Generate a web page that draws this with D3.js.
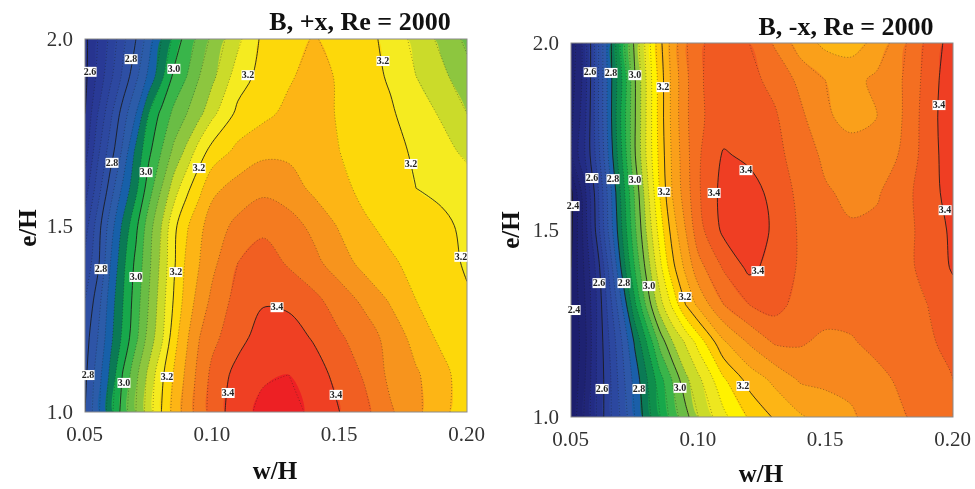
<!DOCTYPE html>
<html><head><meta charset="utf-8">
<style>html,body{margin:0;padding:0;background:#fff}svg{display:block;filter:blur(.45px)}</style>
<script src="https://cdn.jsdelivr.net/npm/d3@7"></script></head>
<body><svg id="c" width="975" height="489"></svg>
<script>
const wGrid=[.05,.055,.06,.065,.07,.075,.08,.085,.09,.095,.10,.11,.12,.13,.14,.15,.16,.17,.18,.19,.20];
const eGrid=[2.0,1.9,1.8,1.7,1.6,1.5,1.4,1.3,1.2,1.1,1.0];
const thresholds=[2.40,2.44,2.48,2.52,2.56,2.60,2.64,2.68,2.72,2.76,2.80,2.84,2.88,2.92,2.96,3.00,3.04,3.08,3.12,3.16,3.20,3.24,3.28,3.32,3.36,3.40,3.44];
const plusColors=["#1d1f6f","#1f2274","#21267b","#232a82","#252e88","#27348f","#293a96","#2b429c","#2d48a0","#2e4fa4","#2e55a7","#2c5ca9","#1760a9","#0b7a55","#17a84b","#39b54a","#6abd45","#8dc63f","#cbdb2a","#f5eb20","#fdd80a","#fdb515","#f7941d","#f47b20","#f15f22","#ef4023","#ed2024"];
const minusColors=["#1c1e6d","#1e2272","#212678","#232c84","#26338c","#2a3f98","#2c48a0","#2e50a6","#2e58a9","#1a5fa9","#0b7a55","#0f8e4c","#17a84b","#39b54a","#6abd45","#8dc63f","#cbdb2a","#eee71f","#fff200","#ffcb05","#fdb515","#faa01a","#f7881e","#f46f21","#f15a22","#ef3e23","#ed2024"];
const belowColor="#1b1c69";
const plusX=[
[2.59,2.64,2.69,2.75,2.80,2.86,2.92,2.97,3.02,3.05,3.09,3.15,3.21,3.225,3.243,3.225,3.21,3.19,3.145,3.11,3.07],
[2.59,2.65,2.71,2.77,2.83,2.89,2.95,3.01,3.04,3.08,3.11,3.18,3.215,3.235,3.255,3.235,3.215,3.195,3.16,3.13,3.095],
[2.60,2.68,2.75,2.82,2.88,2.96,3.01,3.05,3.08,3.11,3.15,3.21,3.23,3.25,3.26,3.235,3.22,3.205,3.18,3.155,3.12],
[2.62,2.71,2.78,2.85,2.93,2.99,3.04,3.09,3.13,3.18,3.215,3.25,3.27,3.27,3.26,3.24,3.22,3.21,3.195,3.175,3.15],
[2.66,2.74,2.82,2.89,2.95,3.02,3.08,3.14,3.19,3.23,3.27,3.295,3.31,3.30,3.27,3.25,3.23,3.215,3.20,3.19,3.18],
[2.70,2.78,2.86,2.93,2.99,3.06,3.12,3.19,3.235,3.27,3.30,3.33,3.35,3.335,3.31,3.275,3.245,3.23,3.22,3.21,3.19],
[2.73,2.79,2.88,2.95,3.01,3.07,3.13,3.195,3.25,3.28,3.31,3.36,3.38,3.355,3.33,3.30,3.265,3.245,3.23,3.215,3.195],
[2.76,2.82,2.90,2.96,3.02,3.08,3.14,3.205,3.26,3.295,3.33,3.375,3.395,3.39,3.37,3.34,3.31,3.275,3.24,3.225,3.205],
[2.78,2.84,2.91,2.97,3.03,3.095,3.15,3.225,3.275,3.32,3.35,3.385,3.42,3.42,3.395,3.365,3.34,3.305,3.265,3.23,3.21],
[2.79,2.86,2.93,3.005,3.07,3.13,3.19,3.245,3.29,3.335,3.37,3.415,3.435,3.44,3.42,3.385,3.355,3.31,3.285,3.255,3.215],
[2.80,2.87,2.945,3.02,3.08,3.14,3.20,3.255,3.30,3.34,3.375,3.425,3.45,3.455,3.43,3.40,3.37,3.325,3.29,3.25,3.22]];
const minusX=[
[2.45,2.53,2.66,2.78,2.90,3.01,3.10,3.19,3.26,3.315,3.355,3.375,3.36,3.315,3.26,3.23,3.225,3.25,3.31,3.37,3.42],
[2.46,2.53,2.66,2.78,2.88,2.995,3.09,3.18,3.255,3.31,3.355,3.38,3.37,3.35,3.31,3.28,3.265,3.29,3.32,3.375,3.43],
[2.47,2.54,2.66,2.78,2.89,2.995,3.09,3.18,3.255,3.31,3.355,3.375,3.38,3.365,3.33,3.285,3.27,3.28,3.32,3.38,3.43],
[2.48,2.55,2.65,2.77,2.88,2.995,3.09,3.175,3.25,3.305,3.355,3.405,3.39,3.37,3.345,3.31,3.295,3.295,3.325,3.38,3.425],
[2.39,2.50,2.62,2.74,2.855,2.965,3.07,3.165,3.245,3.30,3.355,3.415,3.42,3.385,3.35,3.325,3.31,3.315,3.345,3.38,3.42],
[2.39,2.49,2.61,2.73,2.84,2.95,3.05,3.14,3.22,3.28,3.345,3.41,3.435,3.39,3.355,3.34,3.325,3.33,3.35,3.37,3.41],
[2.40,2.48,2.57,2.69,2.81,2.92,3.02,3.11,3.19,3.25,3.305,3.365,3.41,3.385,3.355,3.34,3.325,3.325,3.35,3.37,3.405],
[2.40,2.47,2.56,2.66,2.76,2.87,2.975,3.065,3.13,3.20,3.25,3.32,3.36,3.375,3.345,3.34,3.34,3.34,3.345,3.36,3.38],
[2.40,2.46,2.56,2.64,2.72,2.805,2.885,2.975,3.04,3.085,3.135,3.235,3.285,3.325,3.325,3.31,3.315,3.335,3.345,3.355,3.37],
[2.40,2.47,2.56,2.63,2.705,2.775,2.84,2.905,2.965,3.03,3.07,3.155,3.215,3.25,3.285,3.29,3.29,3.305,3.33,3.345,3.36],
[2.41,2.48,2.56,2.63,2.69,2.76,2.825,2.88,2.94,2.985,3.04,3.11,3.165,3.205,3.235,3.255,3.275,3.295,3.315,3.34,3.36]];
const plusLabels=[[.052,1.912,"2.6"],[.0681,1.946,"2.8"],[.0849,1.92,"3.0"],[.114,1.903,"3.2"],[.167,1.941,"3.2"],[.0606,1.668,"2.8"],[.074,1.643,"3.0"],[.0948,1.654,"3.2"],[.178,1.665,"3.2"],[.0563,1.383,"2.8"],[.07,1.362,"3.0"],[.0857,1.375,"3.2"],[.1976,1.416,"3.2"],[.1254,1.281,"3.4"],[.0512,1.099,"2.8"],[.0653,1.078,"3.0"],[.0822,1.094,"3.2"],[.1062,1.051,"3.4"],[.1486,1.046,"3.4"]];
const minusLabels=[[.0575,1.922,"2.6"],[.0657,1.92,"2.8"],[.0751,1.914,"3.0"],[.0861,1.882,"3.2"],[.1945,1.834,"3.4"],[.1187,1.66,"3.4"],[.0582,1.639,"2.6"],[.0665,1.636,"2.8"],[.0751,1.634,"3.0"],[.0865,1.602,"3.2"],[.1062,1.599,"3.4"],[.0508,1.564,"2.4"],[.1969,1.553,"3.4"],[.1234,1.39,"3.4"],[.061,1.358,"2.6"],[.0708,1.358,"2.8"],[.0806,1.35,"3.0"],[.0948,1.321,"3.2"],[.0512,1.286,"2.4"],[.1175,1.083,"3.2"],[.0622,1.075,"2.6"],[.0767,1.075,"2.8"],[.0928,1.078,"3.0"]];
const xTicks=[.05,.10,.15,.20], yTicks=[1.0,1.5,2.0];

const svg=d3.select("#c");
const SERIF="'Liberation Serif','Times New Roman',serif";
const nx=wGrid.length, ny=eGrid.length;
const xi=d3.scaleLinear().domain(wGrid.map((_,i)=>i+.5)).range(wGrid).clamp(true);
const yi=d3.scaleLinear().domain(eGrid.map((_,i)=>i+.5)).range(eGrid).clamp(true);
const gen=d3.contours().size([nx,ny]).thresholds(thresholds);

function panel(o,idx){
  const x=d3.scaleLinear().domain([.05,.20]).range([o.x0,o.x1]);
  const y=d3.scaleLinear().domain([1,2]).range([o.y1,o.y0]);
  const g=svg.append("g");
  const cid="clip"+idx;
  svg.append("clipPath").attr("id",cid).append("rect").attr("x",o.x0).attr("y",o.y0).attr("width",o.x1-o.x0).attr("height",o.y1-o.y0);
  const plot=g.append("g").attr("clip-path",`url(#${cid})`);
  plot.append("rect").attr("x",o.x0).attr("y",o.y0).attr("width",o.x1-o.x0).attr("height",o.y1-o.y0).attr("fill",belowColor);
  const px=p=>[x(xi(p[0])),y(yi(p[1]))];
  const closed=d3.line().curve(d3.curveCatmullRomClosed.alpha(.5));
  const smooth=d3.line().curve(d3.curveCatmullRom.alpha(.5));
  const cs=gen(o.data.flat());
  cs.forEach((c,i)=>{
    let d="";
    c.coordinates.forEach(poly=>poly.forEach(r=>{d+=closed(d3.pairs(r).filter(([a,b])=>{const A=px(a),B=px(b);return Math.hypot(A[0]-B[0],A[1]-B[1])>.01;}).map(([a])=>px(a)));}));
    plot.append("path").attr("d",d).attr("fill",o.colors[i]).attr("fill-rule","evenodd");
  });
  cs.forEach((c,i)=>{
    const major=Math.abs(c.value*5-Math.round(c.value*5))<1e-6;
    let d="";
    c.coordinates.forEach(poly=>poly.forEach(r=>{
      let run=[];
      const inner=p=>p[0]>0&&p[0]<nx&&p[1]>0&&p[1]<ny;
      r.forEach(p=>{
        if(inner(p)) run.push(px(p));
        else { if(run.length>1) d+=smooth(run); run=[]; }
      });
      if(run.length>1) d+=smooth(run);
    }));
    if(!d) return;
    plot.append("path").attr("d",d).attr("fill","none").attr("stroke","#1a1a1a")
      .attr("stroke-width",major?1:.8).attr("stroke-opacity",major?.85:.5)
      .attr("stroke-dasharray",major?null:"1 2");
  });
  g.append("rect").attr("x",o.x0).attr("y",o.y0).attr("width",o.x1-o.x0).attr("height",o.y1-o.y0)
    .attr("fill","none").attr("stroke","#8a8a8a").attr("stroke-width",1);
  const lab=g.append("g");
  o.labels.forEach(([w,e,t])=>{
    lab.append("rect").attr("x",x(w)-6.5).attr("y",y(e)-5).attr("width",13).attr("height",10).attr("fill","#fff");
    lab.append("text").attr("x",x(w)).attr("y",y(e)+3.3).attr("text-anchor","middle")
      .attr("font-family",SERIF).attr("font-weight","bold").attr("font-size",10).attr("fill","#222").text(t);
  });
  const ax=d3.axisBottom(x).tickValues(xTicks).tickSize(0).tickFormat(d3.format(".2f"));
  const axG=g.append("g").attr("transform",`translate(0,${o.y1})`).call(ax);
  axG.select(".domain").remove();
  axG.selectAll("text").attr("y",0).attr("dy",null).attr("transform",`translate(-1,${o.tickBase-o.y1})`)
    .attr("font-family",SERIF).attr("font-size",21).attr("fill","#333");
  const ay=d3.axisLeft(y).tickValues(yTicks).tickSize(0).tickFormat(d3.format(".1f"));
  const ayG=g.append("g").attr("transform",`translate(${o.x0-12},0)`).call(ay);
  ayG.select(".domain").remove();
  ayG.selectAll("text").attr("x",0).attr("dy","0.32em")
    .attr("font-family",SERIF).attr("font-size",21).attr("fill","#333");
  g.append("text").attr("x",o.titleX).attr("y",o.titleY).attr("text-anchor","middle")
    .attr("font-family",SERIF).attr("font-weight","bold").attr("font-size",26).attr("fill","#111").text(o.title);
  g.append("text").attr("x",o.xlX).attr("y",o.xlY).attr("text-anchor","middle")
    .attr("font-family",SERIF).attr("font-weight","bold").attr("font-size",25).attr("fill","#111").text("w/H");
  g.append("text").attr("transform",`translate(${o.ylX},${o.ylY}) rotate(-90)`).attr("text-anchor","middle")
    .attr("font-family",SERIF).attr("font-weight","bold").attr("font-size",25).attr("fill","#111").text("e/H");
}
panel({x0:85,x1:467,y0:39,y1:412,tickBase:441,data:plusX,colors:plusColors,labels:plusLabels,title:"B, +x, Re = 2000",titleX:360,titleY:30,xlX:275,xlY:479,ylX:36,ylY:228},0);
panel({x0:571,x1:953,y0:43,y1:417,tickBase:446,data:minusX,colors:minusColors,labels:minusLabels,title:"B, -x, Re = 2000",titleX:846,titleY:35,xlX:761,xlY:482,ylX:519,ylY:230},1);
</script></body></html>
